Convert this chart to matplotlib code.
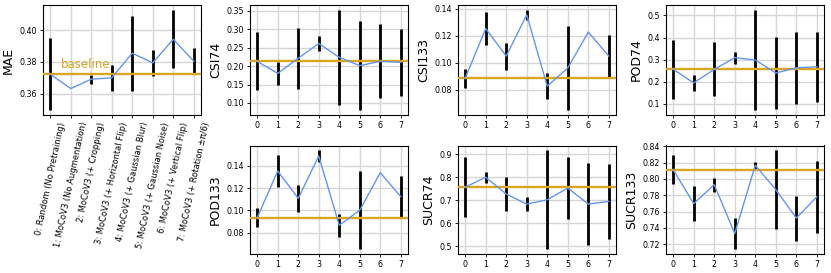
import matplotlib
matplotlib.use("Agg")
import matplotlib.pyplot as plt
import matplotlib.ticker as mticker
import numpy as np

# experiment index and names (MAE panel shows full names)
RUN_IDS = [0, 1, 2, 3, 4, 5, 6, 7]
RUN_NAMES = [
    "0: Random (No Pretraining)",
    "1: MoCoV3 (No Augmentation)",
    "2: MoCoV3 (+ Cropping)",
    "3: MoCoV3 (+ Horizontal Flip)",
    "4: MoCoV3 (+ Gaussian Blur)",
    "5: MoCoV3 (+ Gaussian Noise)",
    "6: MoCoV3 (+ Vertical Flip)",
    "7: MoCoV3 (+ Rotation \u00b1\u03c0/6)",
]

mae_mean = [0.3723, 0.3632, 0.3691, 0.3700, 0.3855, 0.3794, 0.3943, 0.3804]
mae_err = [0.0226, 0.0, 0.0028, 0.0083, 0.0236, 0.0082, 0.0184, 0.0082]
mae_base = 0.3723

csi74_mean = [0.2128, 0.180, 0.221, 0.261, 0.2236, 0.201, 0.2128, 0.210]
csi74_err = [0.079, 0.031, 0.083, 0.019, 0.128, 0.120, 0.100, 0.091]
csi74_base = 0.2128

csi133_mean = [0.0886, 0.1253, 0.105, 0.1354, 0.0828, 0.0962, 0.1227, 0.105]
csi133_err = [0.0072, 0.012, 0.010, 0.0036, 0.0098, 0.031, 0.0, 0.0154]
csi133_base = 0.0886

pod74_mean = [0.257, 0.195, 0.256, 0.309, 0.2985, 0.240, 0.263, 0.268]
pod74_err = [0.133, 0.035, 0.122, 0.027, 0.226, 0.162, 0.163, 0.158]
pod74_base = 0.256

pod133_mean = [0.0933, 0.1355, 0.1108, 0.149, 0.0866, 0.1002, 0.134, 0.1123]
pod133_err = [0.0085, 0.0143, 0.012, 0.005, 0.0104, 0.035, 0.0, 0.0188]
pod133_base = 0.0933

sucr74_mean = [0.757, 0.800, 0.727, 0.683, 0.702, 0.753, 0.683, 0.695]
sucr74_err = [0.130, 0.025, 0.075, 0.031, 0.215, 0.137, 0.178, 0.163]
sucr74_base = 0.757

sucr133_mean = [0.8114, 0.7698, 0.793, 0.733, 0.8167, 0.787, 0.752, 0.778]
sucr133_err = [0.0175, 0.021, 0.0087, 0.019, 0.004, 0.048, 0.0275, 0.044]
sucr133_base = 0.8114

LINE_COLOR = "cornflowerblue"
BASE_COLOR = "goldenrod"
TICK_FS = 5.7
LABEL_FS = 9

W, H = 831, 273


def ax_rect(left_px, top_px, bottom_px, width_px=158):
    return [left_px / W, (H - bottom_px) / H, width_px / W, (bottom_px - top_px) / H]


def draw_panel(ax, mean, err, base, ylabel, ystep):
    ax.errorbar(RUN_IDS, mean, yerr=err, fmt="none", ecolor="black",
                elinewidth=2, capsize=0, zorder=2)
    ax.axhline(base, color=BASE_COLOR, lw=1.7, zorder=3)
    ax.plot(RUN_IDS, mean, color=LINE_COLOR, lw=1.0, zorder=4)
    ax.set_xticks(RUN_IDS)
    ax.yaxis.set_major_locator(mticker.MultipleLocator(ystep))
    ax.grid(True, color="0.84", lw=1.0, zorder=0)
    ax.set_axisbelow(True)
    ax.tick_params(labelsize=TICK_FS, length=2.5, width=0.6, pad=2)
    ax.set_ylabel(ylabel, fontsize=LABEL_FS, labelpad=3)
    for sp in ax.spines.values():
        sp.set_linewidth(0.8)


fig = plt.figure(figsize=(W / 100, H / 100), dpi=100)

lefts = [43, 250, 458, 666]
top_row = (5, 115)
bot_row = (145.5, 254)

ax_mae = fig.add_axes(ax_rect(lefts[0], *top_row))
draw_panel(ax_mae, mae_mean, mae_err, mae_base, "MAE", 0.02)
ax_mae.set_xticklabels(RUN_NAMES, rotation=78, fontsize=6)
ax_mae.text(0.5, 0.3745, "baseline", color=BASE_COLOR, fontsize=8.5,
            va="bottom", ha="left", zorder=5)

ax = fig.add_axes(ax_rect(lefts[1], *top_row))
draw_panel(ax, csi74_mean, csi74_err, csi74_base, "CSI74", 0.05)

ax = fig.add_axes(ax_rect(lefts[2], *top_row))
draw_panel(ax, csi133_mean, csi133_err, csi133_base, "CSI133", 0.02)

ax = fig.add_axes(ax_rect(lefts[3], *top_row))
draw_panel(ax, pod74_mean, pod74_err, pod74_base, "POD74", 0.1)

ax = fig.add_axes(ax_rect(lefts[1], *bot_row))
draw_panel(ax, pod133_mean, pod133_err, pod133_base, "POD133", 0.02)

ax = fig.add_axes(ax_rect(lefts[2], *bot_row))
draw_panel(ax, sucr74_mean, sucr74_err, sucr74_base, "SUCR74", 0.1)

ax = fig.add_axes(ax_rect(lefts[3], *bot_row))
draw_panel(ax, sucr133_mean, sucr133_err, sucr133_base, "SUCR133", 0.02)

fig.savefig("out.png", dpi=100)
